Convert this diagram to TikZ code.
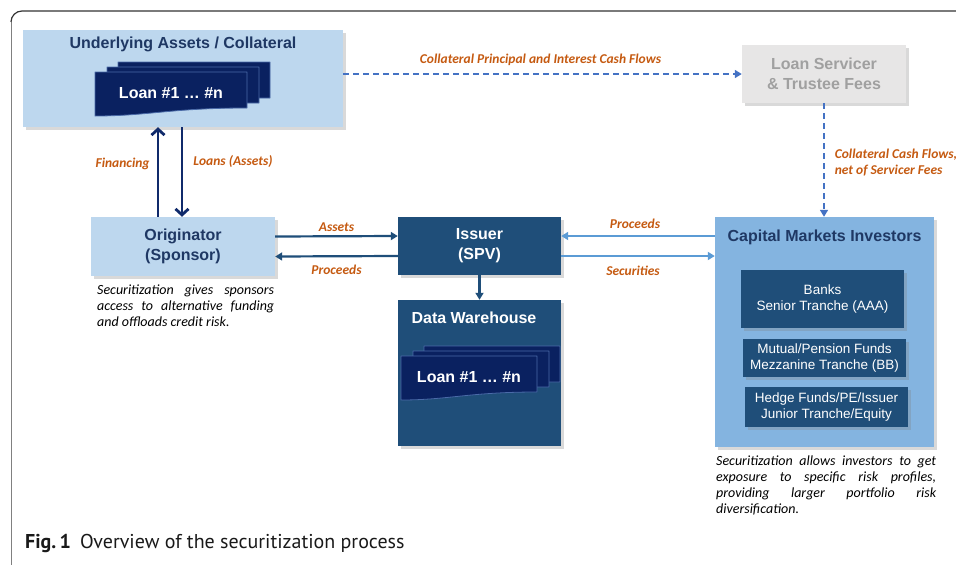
\documentclass[tikz,border=0pt]{standalone}
\usepackage{fontspec}
\setmainfont{Liberation Sans}
\newfontfamily\notefont{Carlito}
\newfontfamily\capfont{PT Sans}
\usetikzlibrary{positioning,shadows,arrows.meta}

\definecolor{lightbox}{HTML}{BDD7EE}
\definecolor{navytext}{HTML}{1F3864}
\definecolor{steel}{HTML}{1F4E79}
\definecolor{loannavy}{HTML}{0A2160}
\definecolor{sheetedge}{HTML}{4A6AA8}
\definecolor{midblue}{HTML}{84B4E0}
\definecolor{flowblue}{HTML}{5B9BD5}
\definecolor{dashblue}{HTML}{4472C4}
\definecolor{labelorange}{HTML}{C55A11}
\definecolor{feegray}{HTML}{E7E6E6}
\definecolor{feetext}{HTML}{A0A0A0}
\definecolor{arrownavy}{HTML}{102A6B}

\tikzset{
  box/.style={inner sep=0pt, align=center,
    drop shadow={shadow xshift=2.5pt, shadow yshift=-2.5pt, opacity=0.3}},
  lightbox/.style={box, fill=lightbox, text=navytext, font=\bfseries\fontsize{16}{20}\selectfont},
  darkbox/.style={box, fill=steel, text=white, font=\bfseries\fontsize{16}{20}\selectfont},
  feebox/.style={box, fill=feegray, text=feetext, font=\bfseries\fontsize{16}{20}\selectfont},
  tranche/.style={box, fill=steel, text=white, font=\fontsize{13.5}{16}\selectfont, minimum width=163pt},
  ttl/.style={inner sep=0pt, font=\bfseries\fontsize{16}{20}\selectfont},
  loantxt/.style={inner sep=0pt, text=white, font=\bfseries\fontsize{16}{20}\selectfont},
  sheet/.style={fill=loannavy, draw=sheetedge, line width=0.8pt},
  flowlbl/.style={inner sep=0pt, text=labelorange, font=\notefont\bfseries\itshape\fontsize{13.5}{16}\selectfont},
  note/.style={inner sep=0pt, align=justify, font=\notefont\itshape\fontsize{14}{16}\selectfont},
  navyarrow/.style={draw=arrownavy, line width=2.8pt, -{Straight Barb[length=6pt,width=13pt]}},
  steelarrow/.style={draw=steel, line width=2.2pt, -{Triangle[length=7pt,width=8pt]}},
  lightarrow/.style={draw=flowblue, line width=2.2pt, -{Triangle[length=7pt,width=8pt]}},
  dasharrow/.style={draw=dashblue, line width=1.6pt, dash pattern=on 6pt off 4pt, -{Triangle[length=7pt,width=8pt]}},
}

% three stacked loan sheets, front one at (#1,#2), width #3
\newcommand{\loanstack}[3]{%
  \foreach \dx/\dy in {23/-10,12/-5,0/0}{
    \filldraw[sheet] (#1+\dx,#2+\dy) -- ++(#3,0) -- ++(0,36)
      .. controls +(-0.5*#3,0) and +(0.35*#3,0) .. (#1+\dx,#2+\dy+44) -- cycle;
  }
  \node[loantxt] at (#1+0.5*#3,#2+21) {Loan \#1 … \#n};
}

\begin{document}
\begin{tikzpicture}[x=1pt,y=-1pt, line join=round]
\useasboundingbox (0,0) rectangle (956,565);
\draw[gray, line width=1pt] (11,565) -- (11,22);
\draw[black!80, line width=1.2pt] (11,22) arc[start angle=180, end angle=90, radius=11pt] -- (956,11);

% boxes
\node[lightbox, minimum width=320pt, minimum height=97pt] (ua) at (183,78.5) {};
\node[ttl, text=navytext] (uattl) at ([yshift=-15pt]ua.north) {Underlying Assets / Collateral};
\loanstack{95}{72}{152}

\node[lightbox, minimum width=184pt, minimum height=59pt] (orig) at (183,246.5) {Originator\\(Sponsor)};
\node[darkbox, minimum width=163pt, minimum height=58pt] (issuer) at (479.5,246) {Issuer\\(SPV)};
\node[darkbox, minimum width=163pt, minimum height=146pt] (dw) at (479.5,373) {};
\node[ttl, text=white] (dwttl) at (474,318) {Data Warehouse};
\loanstack{401}{356}{136}

\node[feebox, minimum width=164pt, minimum height=58pt] (srv) at (824,74) {Loan Servicer\\\& Trustee Fees};

\node[box, fill=midblue, minimum width=219pt, minimum height=230pt] (cmi) at (824.5,332) {};
\node[ttl, text=navytext] (cmittl) at ([yshift=-21pt]cmi.north) {Capital Markets Investors};
\node[tranche, minimum height=58pt] (banks) at (822.5,299) {Banks\\Senior Tranche (AAA)};
\node[tranche, minimum height=38pt] (mutual) at (824.5,358) {Mutual/Pension Funds\\Mezzanine Tranche (BB)};
\node[tranche, minimum height=40pt] (hedge) at (826.5,407) {Hedge Funds/PE/Issuer\\Junior Tranche/Equity};

% flows
\draw[dasharrow] (ua.east |- srv.west) -- (srv.west)
  node[flowlbl, midway, yshift=14pt, xshift=-2pt] {Collateral Principal and Interest Cash Flows};
\draw[dasharrow] (srv.south) -- (srv.south |- cmi.north)
  node[flowlbl, midway, right=10pt, yshift=-2.5pt, align=left] {Collateral Cash Flows,\\net of Servicer Fees};
\draw[navyarrow] ([xshift=-25pt]orig.north) -- ([xshift=-25pt]ua.south)
  node[flowlbl, midway, left=7pt, yshift=8pt] {Financing};
\draw[navyarrow] ([xshift=-1pt]ua.south) -- ([xshift=-1pt]orig.north)
  node[flowlbl, midway, right=10pt, yshift=10pt] {Loans (Assets)};
\draw[steelarrow] ([yshift=10pt]orig.east) -- ([yshift=10pt]issuer.west)
  node[flowlbl, midway, yshift=9pt] {Assets};
\draw[steelarrow] ([yshift=-10pt]issuer.west) -- ([yshift=-10pt]orig.east)
  node[flowlbl, midway, yshift=-14pt] {Proceeds};
\draw[steelarrow] (issuer.south) -- (dw.north);
\draw[lightarrow] ([yshift=10pt]cmi.west |- issuer.east) -- ([yshift=10pt]issuer.east)
  node[flowlbl, midway, yshift=12pt, xshift=-3pt] {Proceeds};
\draw[lightarrow] ([yshift=-10pt]issuer.east) -- ([yshift=-10pt]cmi.west |- issuer.east)
  node[flowlbl, midway, yshift=-15pt, xshift=-5pt] {Securities};

% notes
\node[note, text width=177pt, anchor=north west] (orignote) at (97,285)
  {Securitization gives sponsors\linebreak access to alternative funding\linebreak and offloads credit risk.};
\node[note, text width=220pt, anchor=north west] (cminote) at (716,456)
  {Securitization allows investors to get\linebreak exposure to specific risk profiles,\linebreak providing larger portfolio risk\linebreak diversification.};

\node[anchor=west, inner sep=0pt, text=black!90, font=\capfont\fontsize{20}{24}\selectfont] (caption) at (25,543)
  {\textbf{Fig.\,1}\hspace{0.45em}Overview of the securitization process};
\end{tikzpicture}
\end{document}
